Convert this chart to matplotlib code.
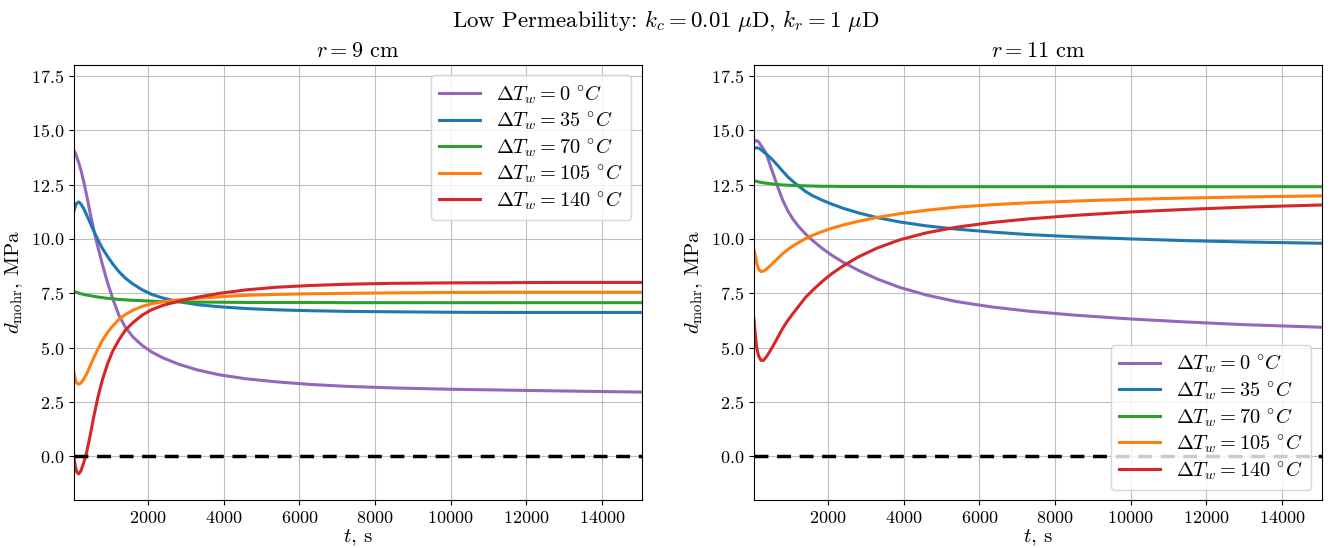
import matplotlib
matplotlib.use("Agg")
import matplotlib.pyplot as plt
import numpy as np

plt.rcParams['font.family'] = 'serif'
plt.rcParams['font.serif'] = ['cmr10', 'DejaVu Serif']
plt.rcParams['mathtext.fontset'] = 'cm'
plt.rcParams['axes.formatter.use_mathtext'] = True

t = [45, 80, 120, 170, 230, 300, 380, 470, 570, 680, 800, 930, 1070, 1230, 1400, 1600,
     1850, 2100, 2400, 2800, 3300, 3900, 4600, 5400, 6300, 7300, 8500, 10000, 11500, 13000, 15050]

dT = [0, 35, 70, 105, 140]
colors = ['#9467bd', '#1f77b4', '#2ca02c', '#ff7f0e', '#d62728']

# r = 9 cm
r9_dT0 = [14.05, 13.95, 13.75, 13.5, 13.15, 12.65, 12.0, 11.2, 10.4, 9.6, 8.8, 8.0, 7.25, 6.5,
          5.95, 5.5, 5.1, 4.8, 4.53, 4.25, 3.98, 3.75, 3.57, 3.43, 3.31, 3.22, 3.15, 3.09,
          3.05, 3.01, 2.96]
r9_dT35 = [11.3, 11.5, 11.65, 11.7, 11.6, 11.4, 11.1, 10.75, 10.35, 9.95, 9.55, 9.2, 8.85, 8.5,
           8.2, 7.93, 7.66, 7.45, 7.28, 7.12, 6.98, 6.88, 6.8, 6.74, 6.7, 6.67, 6.65, 6.63,
           6.62, 6.62, 6.62]
r9_dT70 = [7.58, 7.56, 7.54, 7.51, 7.48, 7.45, 7.42, 7.39, 7.36, 7.33, 7.30, 7.27, 7.25, 7.22,
           7.20, 7.18, 7.16, 7.14, 7.12, 7.11, 7.10, 7.09, 7.08, 7.08, 7.08, 7.07, 7.07, 7.07,
           7.07, 7.07, 7.07]
r9_dT105 = [3.85, 3.55, 3.38, 3.32, 3.38, 3.55, 3.8, 4.15, 4.55, 4.95, 5.35, 5.7, 6.0, 6.3,
            6.52, 6.72, 6.9, 7.02, 7.12, 7.2, 7.27, 7.34, 7.41, 7.45, 7.48, 7.5, 7.52, 7.54,
            7.55, 7.55, 7.55]
r9_dT140 = [-0.05, -0.45, -0.72, -0.8, -0.65, -0.3, 0.2, 0.95, 1.85, 2.75, 3.55, 4.25, 4.85, 5.35,
            5.8, 6.15, 6.5, 6.75, 6.95, 7.13, 7.32, 7.5, 7.66, 7.78, 7.86, 7.92, 7.96, 7.98,
            7.99, 8.0, 8.0]

# r = 11 cm
r11_dT0 = [14.45, 14.5, 14.52, 14.45, 14.3, 14.12, 13.88, 13.4, 12.9, 12.35, 11.8, 11.32, 10.92, 10.56,
           10.24, 9.92, 9.56, 9.25, 8.93, 8.56, 8.16, 7.77, 7.42, 7.12, 6.88, 6.68, 6.5, 6.32,
           6.18, 6.06, 5.94]
r11_dT35 = [14.15, 14.18, 14.19, 14.17, 14.1, 14.0, 13.88, 13.75, 13.57, 13.36, 13.12, 12.87, 12.65, 12.42,
            12.19, 11.98, 11.78, 11.6, 11.41, 11.2, 10.98, 10.78, 10.6, 10.45, 10.32, 10.2, 10.1, 10.0,
            9.92, 9.86, 9.8]
r11_dT70 = [12.67, 12.66, 12.64, 12.62, 12.60, 12.58, 12.56, 12.54, 12.52, 12.50, 12.48, 12.47, 12.46, 12.45,
            12.44, 12.43, 12.42, 12.42, 12.41, 12.41, 12.41, 12.41, 12.40, 12.40, 12.40, 12.40, 12.40, 12.40,
            12.40, 12.40, 12.40]
r11_dT105 = [9.5, 9.25, 8.85, 8.6, 8.5, 8.52, 8.62, 8.76, 8.93, 9.12, 9.32, 9.5, 9.67, 9.84,
             10.01, 10.17, 10.34, 10.49, 10.64, 10.81, 10.99, 11.16, 11.32, 11.46, 11.57, 11.66, 11.74, 11.82,
             11.88, 11.93, 11.98]
r11_dT140 = [6.3, 5.6, 4.95, 4.6, 4.42, 4.42, 4.6, 4.85, 5.15, 5.5, 5.88, 6.23, 6.56, 6.92,
             7.3, 7.65, 8.05, 8.4, 8.76, 9.17, 9.58, 9.96, 10.28, 10.54, 10.75, 10.92, 11.08, 11.24,
             11.36, 11.46, 11.56]

panels = [
    ("$r = 9$ cm", [r9_dT0, r9_dT35, r9_dT70, r9_dT105, r9_dT140], 'upper right'),
    ("$r = 11$ cm", [r11_dT0, r11_dT35, r11_dT70, r11_dT105, r11_dT140], 'lower right'),
]

fig = plt.figure(figsize=(13.31, 5.48), dpi=100)
axes = [fig.add_axes([0.0556, 0.0876, 0.4265, 0.794]),
        fig.add_axes([0.5665, 0.0876, 0.4265, 0.794])]

for ax, (title, series, loc) in zip(axes, panels):
    for vals, d, c in zip(series, dT, colors):
        ax.plot(t, vals, color=c, lw=2.2, label=r"$\Delta T_w = %d\ ^{\circ}C$" % d)
    ax.axhline(0, color='k', ls='--', lw=2.5, dashes=(4, 2.5))
    ax.set_xlim(45, 15050)
    ax.set_ylim(-2, 18)
    ax.set_yticks(np.arange(0, 17.6, 2.5))
    ax.set_xticks(np.arange(2000, 14001, 2000))
    ax.grid(True, color='#b0b0b0', lw=0.8, alpha=0.8)
    ax.tick_params(labelsize=13)
    ax.set_title(title, fontsize=16)
    ax.set_xlabel("$t$, s", fontsize=15, labelpad=1)
    ax.set_ylabel(r"$d_{\mathrm{mohr}}$, MPa", fontsize=15)
    ax.legend(loc=loc, fontsize=14.7, labelspacing=0.2)

fig.suptitle(r"Low Permeability: $k_c = 0.01\ \mu$D, $k_r = 1\ \mu$D", fontsize=16.5, y=0.985)
fig.savefig("out.png", dpi=100)
